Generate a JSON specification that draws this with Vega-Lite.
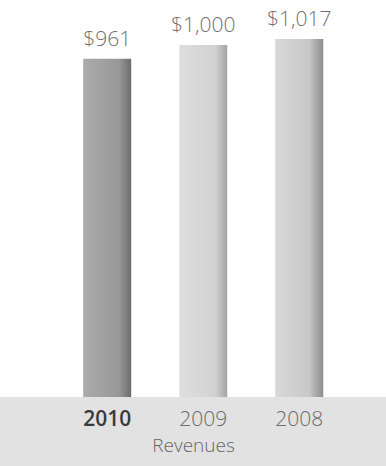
{
  "$schema": "https://vega.github.io/schema/vega-lite/v6.json",
  "width": 386,
  "height": 466,
  "autosize": {"type": "none"},
  "padding": 0,
  "background": "white",
  "config": {"view": {"stroke": null}, "font": "Open Sans"},
  "datasets": {
    "rev": [
      {"year": "2010", "revenue": 961},
      {"year": "2009", "revenue": 1000},
      {"year": "2008", "revenue": 1017}
    ],
    "band": [{"band": "base"}]
  },
  "layer": [
    {
      "data": {"name": "band"},
      "mark": {"type": "rect", "color": "#e2e2e2"},
      "encoding": {
        "y": {"datum": -196, "type": "quantitative", "scale": {"domain": [-196, 1128], "nice": false, "zero": false}, "axis": null},
        "y2": {"datum": 0}
      }
    },
    {
      "data": {"name": "rev"},
      "encoding": {
        "x": {
          "field": "year", "type": "nominal", "sort": ["2010", "2009", "2008"],
          "scale": {"paddingInner": 0.5, "paddingOuter": 0.76, "align": 0.57},
          "axis": {
            "orient": "bottom", "offset": -66, "zindex": 1, "domain": false, "ticks": false, "grid": false,
            "labelAngle": 0, "labelFontSize": 21, "labelPadding": 8, "labelFont": "Open Sans",
            "labelColor": {"condition": {"test": "datum.value == '2010'", "value": "#3a3a3a"}, "value": "#6a6a6a"},
            "labelFontWeight": {"condition": {"test": "datum.value == '2010'", "value": 600}, "value": 300},
            "title": "Revenues", "titleFontSize": 19, "titleFontWeight": 300, "titleColor": "#666666",
            "titlePadding": 7, "titleFont": "Open Sans"
          }
        },
        "y": {"field": "revenue", "type": "quantitative"}
      },
      "layer": [
        {
          "transform": [{"filter": "datum.year == '2010'"}],
          "mark": {"type": "bar", "color": {"gradient": "linear", "x1": 0, "x2": 1, "y1": 0, "y2": 0,
            "stops": [{"offset": 0, "color": "#ababab"}, {"offset": 0.75, "color": "#989898"}, {"offset": 1, "color": "#6c6c6c"}]}}
        },
        {
          "transform": [{"filter": "datum.year == '2009'"}],
          "mark": {"type": "bar", "color": {"gradient": "linear", "x1": 0, "x2": 1, "y1": 0, "y2": 0,
            "stops": [{"offset": 0, "color": "#dedede"}, {"offset": 0.75, "color": "#d2d2d2"}, {"offset": 1, "color": "#a2a2a2"}]}}
        },
        {
          "transform": [{"filter": "datum.year == '2008'"}],
          "mark": {"type": "bar", "color": {"gradient": "linear", "x1": 0, "x2": 1, "y1": 0, "y2": 0,
            "stops": [{"offset": 0, "color": "#d8d8d8"}, {"offset": 0.7, "color": "#c8c8c8"}, {"offset": 1, "color": "#8c8c8c"}]}}
        },
        {
          "mark": {"type": "text", "baseline": "alphabetic", "dy": -13, "fontSize": 21, "fontWeight": 300, "color": "#707070", "font": "Open Sans"},
          "encoding": {
            "text": {"field": "revenue", "type": "quantitative", "format": "$,.0f"}
          }
        }
      ]
    }
  ]
}
